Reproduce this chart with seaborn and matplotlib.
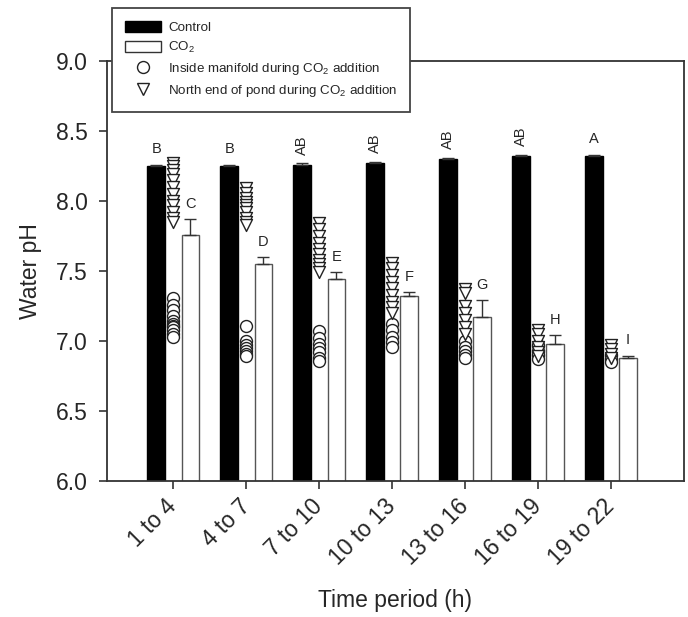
import numpy as np
import pandas as pd
import matplotlib
matplotlib.use("Agg")
import matplotlib.pyplot as plt
import seaborn as sns
from matplotlib.lines import Line2D
from matplotlib.patches import Patch

periods = ["1 to 4", "4 to 7", "7 to 10", "10 to 13", "13 to 16", "16 to 19", "19 to 22"]
control_ph = [8.25, 8.25, 8.26, 8.27, 8.30, 8.32, 8.32]
control_se = [0.01, 0.01, 0.01, 0.01, 0.01, 0.01, 0.01]
co2_ph = [7.76, 7.55, 7.44, 7.32, 7.17, 6.98, 6.88]
co2_se = [0.11, 0.05, 0.05, 0.03, 0.12, 0.06, 0.015]
control_letters = ["B", "B", "AB", "AB", "AB", "AB", "A"]
co2_letters = ["C", "D", "E", "F", "G", "H", "I"]

manifold_ph = [
    [7.31, 7.26, 7.22, 7.18, 7.14, 7.12, 7.11, 7.10, 7.08, 7.05, 7.03],
    [7.11, 7.00, 6.97, 6.95, 6.93, 6.91, 6.89],
    [7.07, 7.02, 6.98, 6.95, 6.92, 6.88, 6.86],
    [7.12, 7.08, 7.03, 6.99, 6.96],
    [7.00, 6.96, 6.93, 6.90, 6.88],
    [6.97, 6.93, 6.90, 6.87],
    [6.90, 6.87, 6.85],
]
north_ph = [
    [8.27, 8.25, 8.22, 8.19, 8.15, 8.10, 8.05, 8.00, 7.97, 7.92, 7.88, 7.85],
    [8.09, 8.06, 8.02, 7.99, 7.97, 7.95, 7.92, 7.88, 7.85, 7.83],
    [7.84, 7.80, 7.75, 7.70, 7.66, 7.62, 7.58, 7.55, 7.52, 7.49],
    [7.56, 7.52, 7.47, 7.42, 7.38, 7.33, 7.28, 7.24, 7.20],
    [7.37, 7.34, 7.25, 7.20, 7.15, 7.10, 7.05],
    [7.08, 7.05, 7.00, 6.96, 6.92, 6.89],
    [6.97, 6.94, 6.91, 6.88],
]

sns.set_style("white")
plt.rcParams["font.family"] = ["Liberation Sans", "DejaVu Sans"]
plt.rcParams["mathtext.fontset"] = "custom"
plt.rcParams["mathtext.rm"] = "Liberation Sans"
plt.rcParams["mathtext.it"] = "Liberation Sans"

fig = plt.figure(figsize=(6.88, 6.17), dpi=100)
ax = fig.add_axes([107 / 688, 1 - 481 / 617, (684 - 107) / 688, (481 - 61) / 617])

bars_df = pd.DataFrame({
    "period": periods + periods,
    "treatment": ["Control"] * len(periods) + ["CO2"] * len(periods),
    "pH": control_ph + co2_ph,
})
sns.barplot(data=bars_df, x="period", y="pH", hue="treatment", order=periods,
            hue_order=["Control", "CO2"], palette={"Control": "black", "CO2": "white"},
            width=0.936, gap=0.483, errorbar=None, legend=False, ax=ax,
            edgecolor="#555555", linewidth=1)
for bar in ax.containers[0]:
    bar.set_edgecolor("black")

edge = "#333333"
for cont, se, letters in [(ax.containers[0], control_se, control_letters),
                          (ax.containers[1], co2_se, co2_letters)]:
    xs = [b.get_x() + b.get_width() / 2 for b in cont]
    hs = [b.get_height() for b in cont]
    ax.errorbar(xs, hs, yerr=[np.zeros(len(se)), se], fmt="none", ecolor=edge,
                elinewidth=1, capsize=4, capthick=1, zorder=2)
    for x, h, e, lab in zip(xs, hs, se, letters):
        ax.annotate(lab, (x, h + e), xytext=(0, 6), textcoords="offset points",
                    ha="center", va="bottom", fontsize=10.5,
                    rotation=90 if len(lab) > 1 else 0)

man_df = pd.DataFrame({
    "period": [p for p, vals in zip(periods, manifold_ph) for _ in vals],
    "pH": [v for vals in manifold_ph for v in vals],
})
north_df = pd.DataFrame({
    "period": [p for p, vals in zip(periods, north_ph) for _ in vals],
    "pH": [v for vals in north_ph for v in vals],
})
sns.stripplot(data=man_df, x="period", y="pH", order=periods, jitter=False,
              marker="o", size=8.6, color="white", edgecolor="#222222",
              linewidth=1, ax=ax, zorder=3)
sns.stripplot(data=north_df, x="period", y="pH", order=periods, jitter=False,
              marker="v", size=8.6, color="white", edgecolor="#222222",
              linewidth=1, ax=ax, zorder=3)

ax.set_xlim(-0.91, 7.0)
ax.set_ylim(6.0, 9.0)
ax.set_yticks(np.arange(6.0, 9.01, 0.5))
ax.set_yticklabels([f"{v:.1f}" for v in np.arange(6.0, 9.01, 0.5)])
ax.set_xticks(range(len(periods)))
ax.set_xticklabels(periods, rotation=45, ha="right", va="center", rotation_mode="anchor")
ax.tick_params(axis="both", direction="out", length=6, width=1.2, color=edge,
               labelsize=16.5, bottom=True, left=True, top=False, right=False)
ax.tick_params(axis="y", pad=8)
ax.tick_params(axis="x", pad=10)
for s in ax.spines.values():
    s.set_visible(True)
    s.set_color(edge)
    s.set_linewidth(1.3)

ax.set_xlabel("Time period (h)", fontsize=16.5, labelpad=14)
ax.set_ylabel("Water pH", fontsize=16.5, labelpad=10)

handles = [
    Patch(facecolor="black", edgecolor="black"),
    Patch(facecolor="white", edgecolor=edge),
    Line2D([], [], marker="o", ls="none", mfc="white", mec="#222222", ms=8.6),
    Line2D([], [], marker="v", ls="none", mfc="white", mec="#222222", ms=8.6),
]
labels = ["Control", "CO$_2$", "Inside manifold during CO$_2$ addition",
          "North end of pond during CO$_2$ addition"]
leg = ax.legend(handles, labels, loc="upper left", bbox_to_anchor=(112 / 688, 1 - 8 / 617),
                bbox_transform=fig.transFigure, fontsize=9.6, frameon=True, fancybox=False,
                edgecolor="#444444", framealpha=1, borderaxespad=0, handlelength=2.7,
                handleheight=0.95, labelspacing=0.45, handletextpad=0.55, borderpad=0.95)
leg.get_frame().set_linewidth(1.3)

fig.savefig("out.png", dpi=100)
